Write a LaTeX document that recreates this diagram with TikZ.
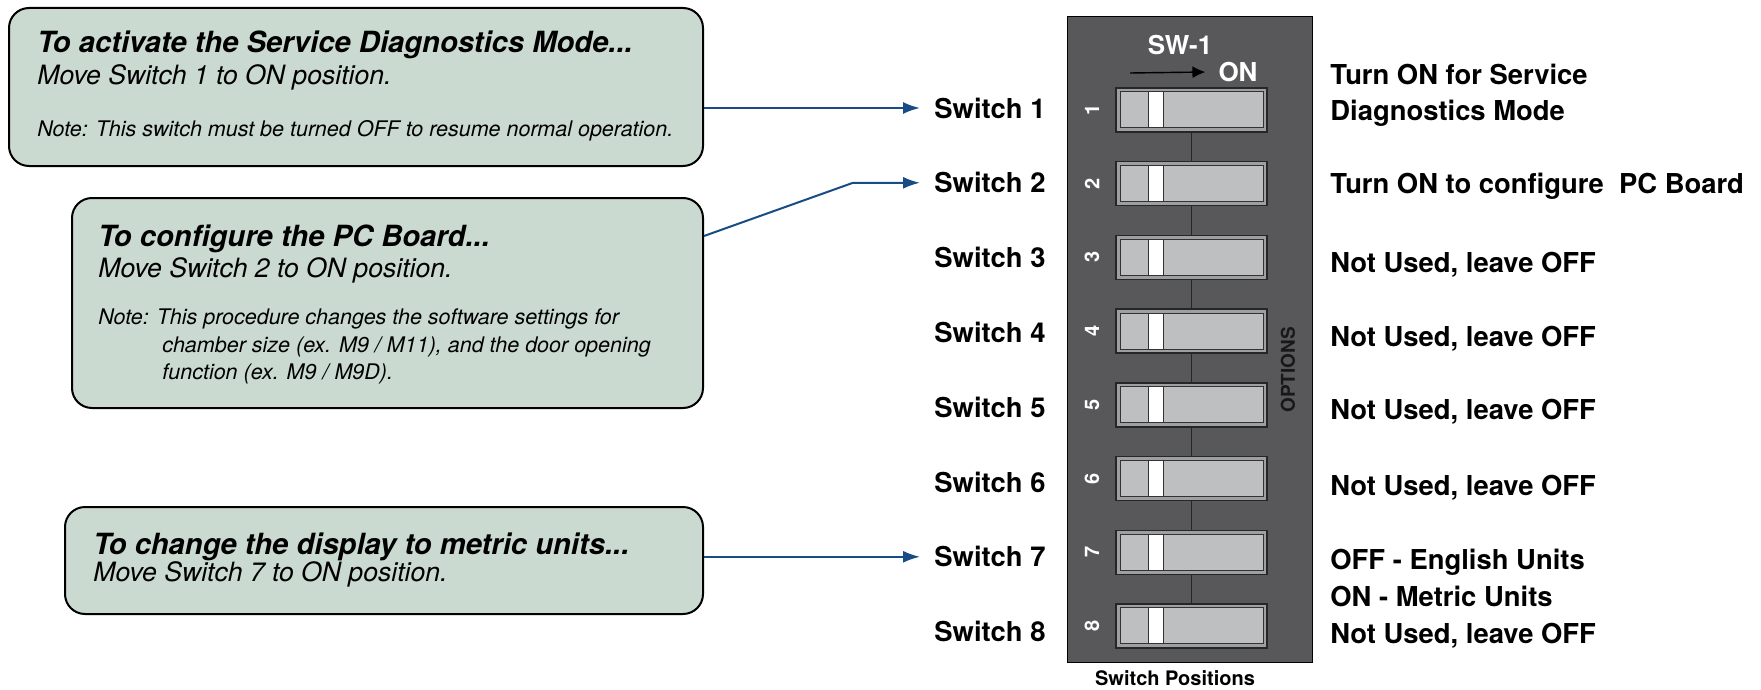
\documentclass[tikz,border=0pt]{standalone}
\usepackage{fontspec}
\setmainfont{TeX Gyre Heros}
\usetikzlibrary{arrows.meta}

\definecolor{notegreen}{RGB}{202,218,209}
\definecolor{panelgray}{RGB}{88,88,90}
\definecolor{rimgray}{RGB}{158,159,161}
\definecolor{switchgray}{RGB}{190,191,193}
\definecolor{arrowblue}{RGB}{24,76,132}
\definecolor{optgray}{RGB}{24,24,24}

\tikzset{
	notebox/.style={draw, line width=1pt, rounded corners=10pt, fill=notegreen, anchor=north west, inner sep=0pt},
	notetitle/.style={anchor=base west, inner sep=0pt, font=\fontsize{14.6}{17}\selectfont\bfseries\itshape},
	noteline/.style={anchor=base west, inner sep=0pt, font=\fontsize{13.3}{15}\selectfont\itshape},
	notesmall/.style={anchor=base west, inner sep=0pt, font=\fontsize{10.75}{13}\selectfont\itshape},
	swlabel/.style={anchor=west, inner sep=0pt, font=\fontsize{13.7}{16}\selectfont\bfseries},
	swtext/.style={anchor=base west, inner sep=0pt, font=\fontsize{13.7}{16}\selectfont\bfseries},
	swbody/.style={draw=black!85, line width=0.7pt, fill=rimgray, minimum width=75.5pt, minimum height=22pt, inner sep=0pt},
	swinner/.style={draw=black!80, line width=0.5pt, fill=switchgray, minimum width=71.5pt, minimum height=18pt, inner sep=0pt},
	swknob/.style={draw=black!80, line width=0.5pt, fill=white, minimum width=7.5pt, minimum height=18pt, inner sep=0pt},
	pointer/.style={arrowblue, line width=1pt, -{Latex[length=8.5pt, width=6pt]}},
}

\begin{document}
\begin{tikzpicture}[x=0.5pt, y=-0.5pt]
	\useasboundingbox (0,0) rectangle (1761,690);

	\node[notebox, minimum width=347pt, minimum height=79pt] (diagbox) at (8,7) {};
	\node[notetitle] (dtitle) at (37,53) {To activate the Service Diagnostics Mode...};
	\node[noteline] (dmove) at (37,85) {Move Switch 1 to ON position.};
	\node[notesmall] (dnote) at (37,136) {Note: This switch must be turned OFF to resume normal operation.};

	\node[notebox, minimum width=315.5pt, minimum height=105pt] (boardbox) at (71,197) {};
	\node[notetitle] (btitle) at (98,246) {To configure the PC Board...};
	\node[noteline] (bmove) at (98,277) {Move Switch 2 to ON position.};
	\node[notesmall] (bnote1) at (98,324) {Note: This procedure changes the software settings for};
	\node[notesmall] (bnote2) at (162,352) {chamber size (ex. M9 / M11), and the door opening};
	\node[notesmall] (bnote3) at (162,379) {function (ex. M9 / M9D).};

	\node[notebox, minimum width=319pt, minimum height=53.5pt] (metricbox) at (64,506) {};
	\node[notetitle] (mtitle) at (93,554) {To change the display to metric units...};
	\node[noteline] (mmove) at (93,581) {Move Switch 7 to ON position.};

	\node[draw, line width=0.5pt, fill=panelgray, anchor=north west, inner sep=0pt, minimum width=122.5pt, minimum height=323pt] (panel) at (1067,16) {};
	\node[white, font=\fontsize{13}{15}\selectfont\bfseries] (swname) at (1180,45) {SW-1};
	\node[white, font=\fontsize{13}{15}\selectfont\bfseries] (ontext) at (1238,72) {ON};
	\coordinate (onstart) at (1130,73);
	\draw[line width=0.7pt, -{Latex[length=6.5pt, width=6pt]}] (onstart) -- ([xshift=-3pt]ontext.west);
	\node[rotate=90, text=optgray, font=\fontsize{9.5}{11}\selectfont\bfseries] (options) at (1288,370) {OPTIONS};
	\node[font=\fontsize{10}{12}\selectfont\bfseries] (caption) at (1175,678) {Switch Positions};

	\foreach \i in {1,...,8} {
			\node[swbody] (sw\i) at (1191.5, {110+73.7*(\i-1)}) {};
			\node[swinner] (swin\i) at (sw\i) {};
			\node[swknob] (knob\i) at ([xshift=20.25pt]sw\i.west) {};
			\node[white, rotate=90, font=\fontsize{10}{12}\selectfont\bfseries] (num\i) at (1092, {110+73.7*(\i-1)}) {\i};
			\node[swlabel] (lbl\i) at (934, {108+74.8*(\i-1)}) {Switch \i};
		}
	\foreach \i [evaluate=\i as \j using int(\i+1)] in {1,...,7} {
			\draw[black!85, line width=0.6pt] (sw\i.south) -- (sw\j.north);
		}

	\node[swtext] (use1a) at (1330,85) {Turn ON for Service};
	\node[swtext] (use1b) at (1330,120) {Diagnostics Mode};
	\node[swtext] (use2) at (1330,193) {Turn ON to configure\ \ PC Board};
	\foreach \y [count=\k from 3] in {272, 346, 419, 495} {
			\node[swtext] (use\k) at (1330,\y) {Not Used, leave OFF};
		}
	\node[swtext] (use7a) at (1330,569) {OFF - English Units};
	\node[swtext] (use7b) at (1330,606) {ON - Metric Units};
	\node[swtext] (use8) at (1330,643) {Not Used, leave OFF};

	\draw[pointer] (diagbox.east |- lbl1.west) -- ([xshift=-7pt]lbl1.west);
	\draw[pointer] ([yshift=-19.5pt]boardbox.north east) -- (853,0 |- lbl2.west) -- ([xshift=-7pt]lbl2.west);
	\draw[pointer] (metricbox.east |- lbl7.west) -- ([xshift=-7pt]lbl7.west);
\end{tikzpicture}
\end{document}
